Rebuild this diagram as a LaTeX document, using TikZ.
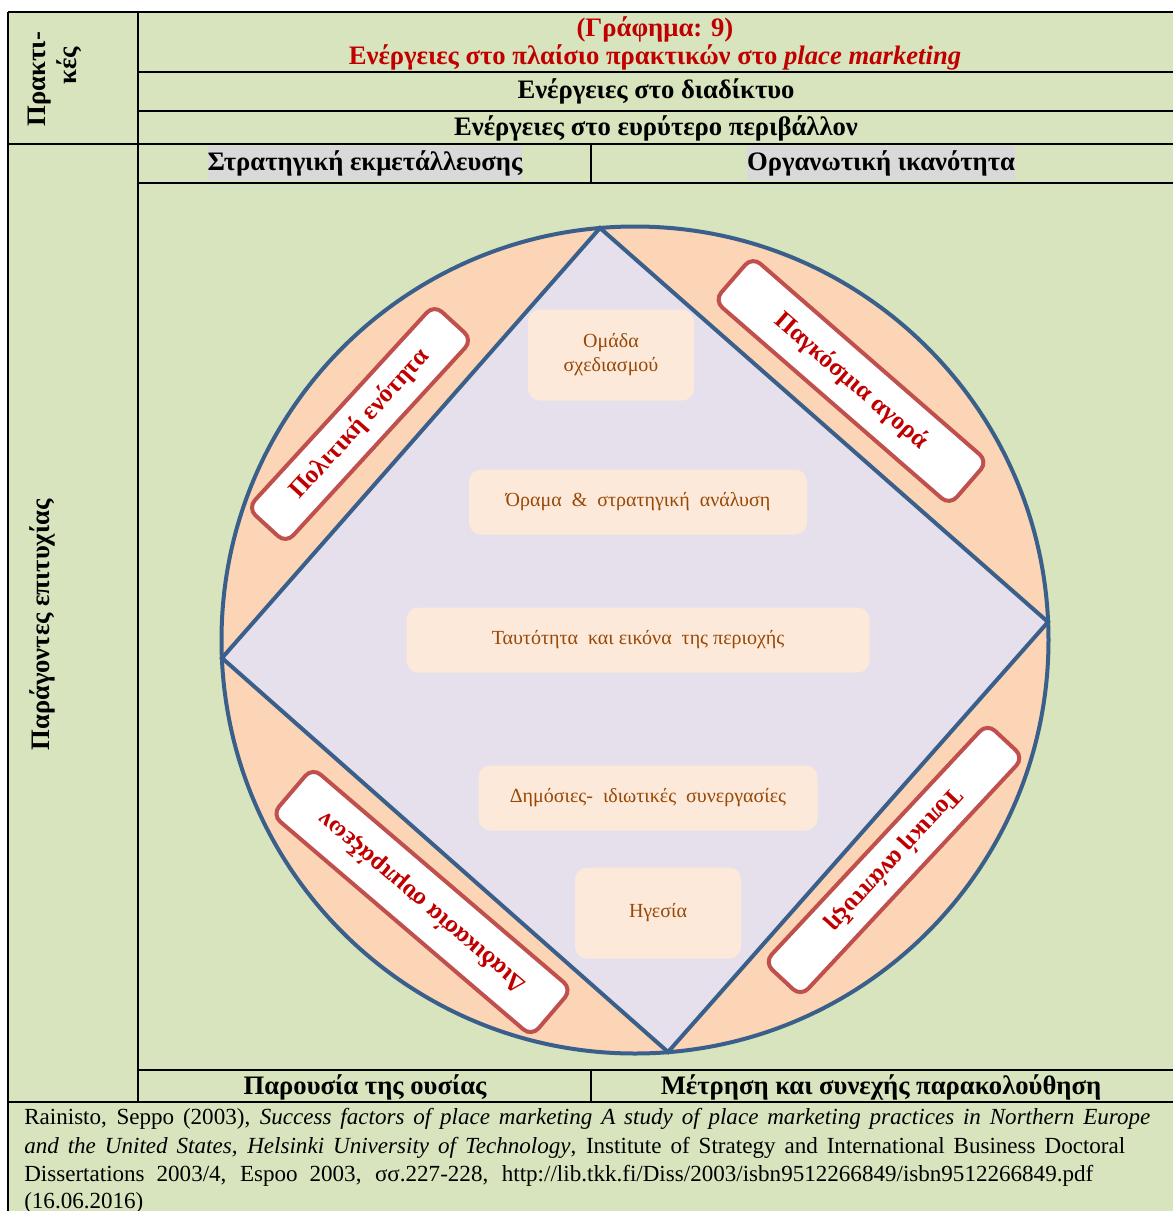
\documentclass[tikz,border=0pt]{standalone}
\usepackage{fontspec}
\setmainfont{Liberation Serif}
\definecolor{tablegreen}{HTML}{D7E4BD}
\definecolor{ringpeach}{HTML}{FBD5B5}
\definecolor{diamondlilac}{HTML}{E5E0EC}
\definecolor{shapeblue}{HTML}{3A5F8B}
\definecolor{boxpeach}{HTML}{FDE9D9}
\definecolor{boxbrown}{HTML}{984806}
\definecolor{labelred}{HTML}{C00000}
\definecolor{framered}{HTML}{C0504D}
\definecolor{hlgray}{HTML}{D9D9D9}

\begin{document}
\begin{tikzpicture}[x=0.75pt, y=-0.75pt,
    tablerule/.style={line width=2.2pt},
    headtext/.style={font=\bfseries\fontsize{20}{21}\selectfont, inner sep=0pt},
    factor/.style={fill=boxpeach, rounded corners=9pt, text=boxbrown, align=center,
        font=\fontsize{15}{18}\selectfont, inner sep=0pt},
    keybox/.style={draw=framered, line width=3pt, fill=white, rounded corners=8pt,
        text=labelred, font=\bfseries\fontsize{19}{22}\selectfont, inner sep=0pt},
    citetext/.style={font=\fontsize{17.3}{21}\selectfont, inner sep=0pt, anchor=base west}]
    \useasboundingbox (0,0) rectangle (1173,1211);
    \fill[tablegreen] (8,12) rectangle (1173,1211);

    % table rules
    \draw[tablerule] (8,12) -- (1173,12);
    \draw[tablerule] (138,72) -- (1173,72);
    \draw[tablerule] (138,111) -- (1173,111);
    \draw[tablerule] (8,144) -- (1173,144);
    \draw[tablerule] (138,183) -- (1173,183);
    \draw[tablerule] (138,1070) -- (1173,1070);
    \draw[tablerule] (8,1102) -- (1173,1102);
    \draw[tablerule] (8,12) -- (8,1211);
    \draw[tablerule] (138,12) -- (138,1102);
    \draw[line width=1.6pt] (591,144) -- (591,183);
    \draw[line width=1.6pt] (591,1070) -- (591,1102);

    % circle and diamond
    \filldraw[fill=ringpeach, draw=shapeblue, line width=3pt] (635,640) circle [radius=413.5];
    \coordinate (dtop) at (600,228);
    \coordinate (dright) at (1048,622);
    \coordinate (dbottom) at (668,1052);
    \coordinate (dleft) at (222,658);
    \filldraw[fill=diamondlilac, draw=shapeblue, line width=3pt]
        (dtop) -- (dright) -- (dbottom) -- (dleft) -- cycle;

    % inner factors
    \node[factor, minimum width=124.5pt, minimum height=68.25pt] (team) at (611,355) {Ομάδα\\σχεδιασμού};
    \node[factor, minimum width=253.5pt, minimum height=48.75pt] (vision) at (638,502) {Όραμα\ \ \&\ \ στρατηγική\ \ ανάλυση};
    \node[factor, minimum width=347.25pt, minimum height=48.75pt] (identity) at (638,640) {Ταυτότητα\ \ και εικόνα\ \ της περιοχής};
    \node[factor, minimum width=254.25pt, minimum height=48.75pt] (partner) at (648,798) {Δημόσιες-\ \ ιδιωτικές\ \ συνεργασίες};
    \node[factor, minimum width=124.5pt, minimum height=68.25pt] (leader) at (658,913) {Ηγεσία};

    % outer factors
    \node[keybox, minimum width=207pt, minimum height=39pt, rotate=47.5] (unity) at (360,424) {Πολιτική ενότητα};
    \node[keybox, minimum width=234pt, minimum height=43.5pt, rotate=-41] (market) at (851,381) {Παγκόσμια αγορά};
    \node[keybox, minimum width=245pt, minimum height=37.5pt, rotate=-133] (local) at (894,860) {Τοπική ανάπτυξη};
    \node[keybox, minimum width=256pt, minimum height=46.5pt, rotate=139.5] (process) at (422,902) {Διαδικασία συμπράξεων};

    % headings
    \node[headtext, text=labelred, align=center] (title) at (655,43) {(Γράφημα: 9)\\Ενέργειες στο πλαίσιο πρακτικών στο \textit{place marketing}};
    \node[headtext] (web) at (656,91) {Ενέργειες στο διαδίκτυο};
    \node[headtext] (env) at (656,128) {Ενέργειες στο ευρύτερο περιβάλλον};
    \node[headtext, fill=hlgray, minimum height=25.5pt] (strat) at (365,163) {Στρατηγική εκμετάλλευσης};
    \node[headtext, fill=hlgray, minimum height=25.5pt] (org) at (881,163) {Οργανωτική ικανότητα};
    \node[headtext] (ousia) at (365,1087) {Παρουσία της ουσίας};
    \node[headtext] (measure) at (881,1087) {Μέτρηση και συνεχής παρακολούθηση};
    \node[headtext, rotate=90] (prakt) at (40,79) {Πρακτι-};
    \node[headtext, rotate=90] (prakt2) at (69,66) {κές};
    \node[headtext, rotate=90] (success) at (42,625) {Παράγοντες επιτυχίας};

    % source
    \node[citetext] (cite1) at (24,1124) {\makebox[844.5pt][s]{Rainisto, Seppo (2003), \textit{Success factors of place marketing A study of place marketing practices in Northern Europe}}};
    \node[citetext] (cite2) at (24,1153) {\makebox[825.75pt][s]{\textit{and the United States, Helsinki University of Technology}, Institute of Strategy and International Business Doctoral}};
    \node[citetext] (cite3) at (24,1181) {\makebox[801.75pt][s]{Dissertations 2003/4, Espoo 2003, σσ.227-228, http://lib.tkk.fi/Diss/2003/isbn9512266849/isbn9512266849.pdf}};
    \node[citetext] (cite4) at (24,1208) {(16.06.2016)};
\end{tikzpicture}
\end{document}
